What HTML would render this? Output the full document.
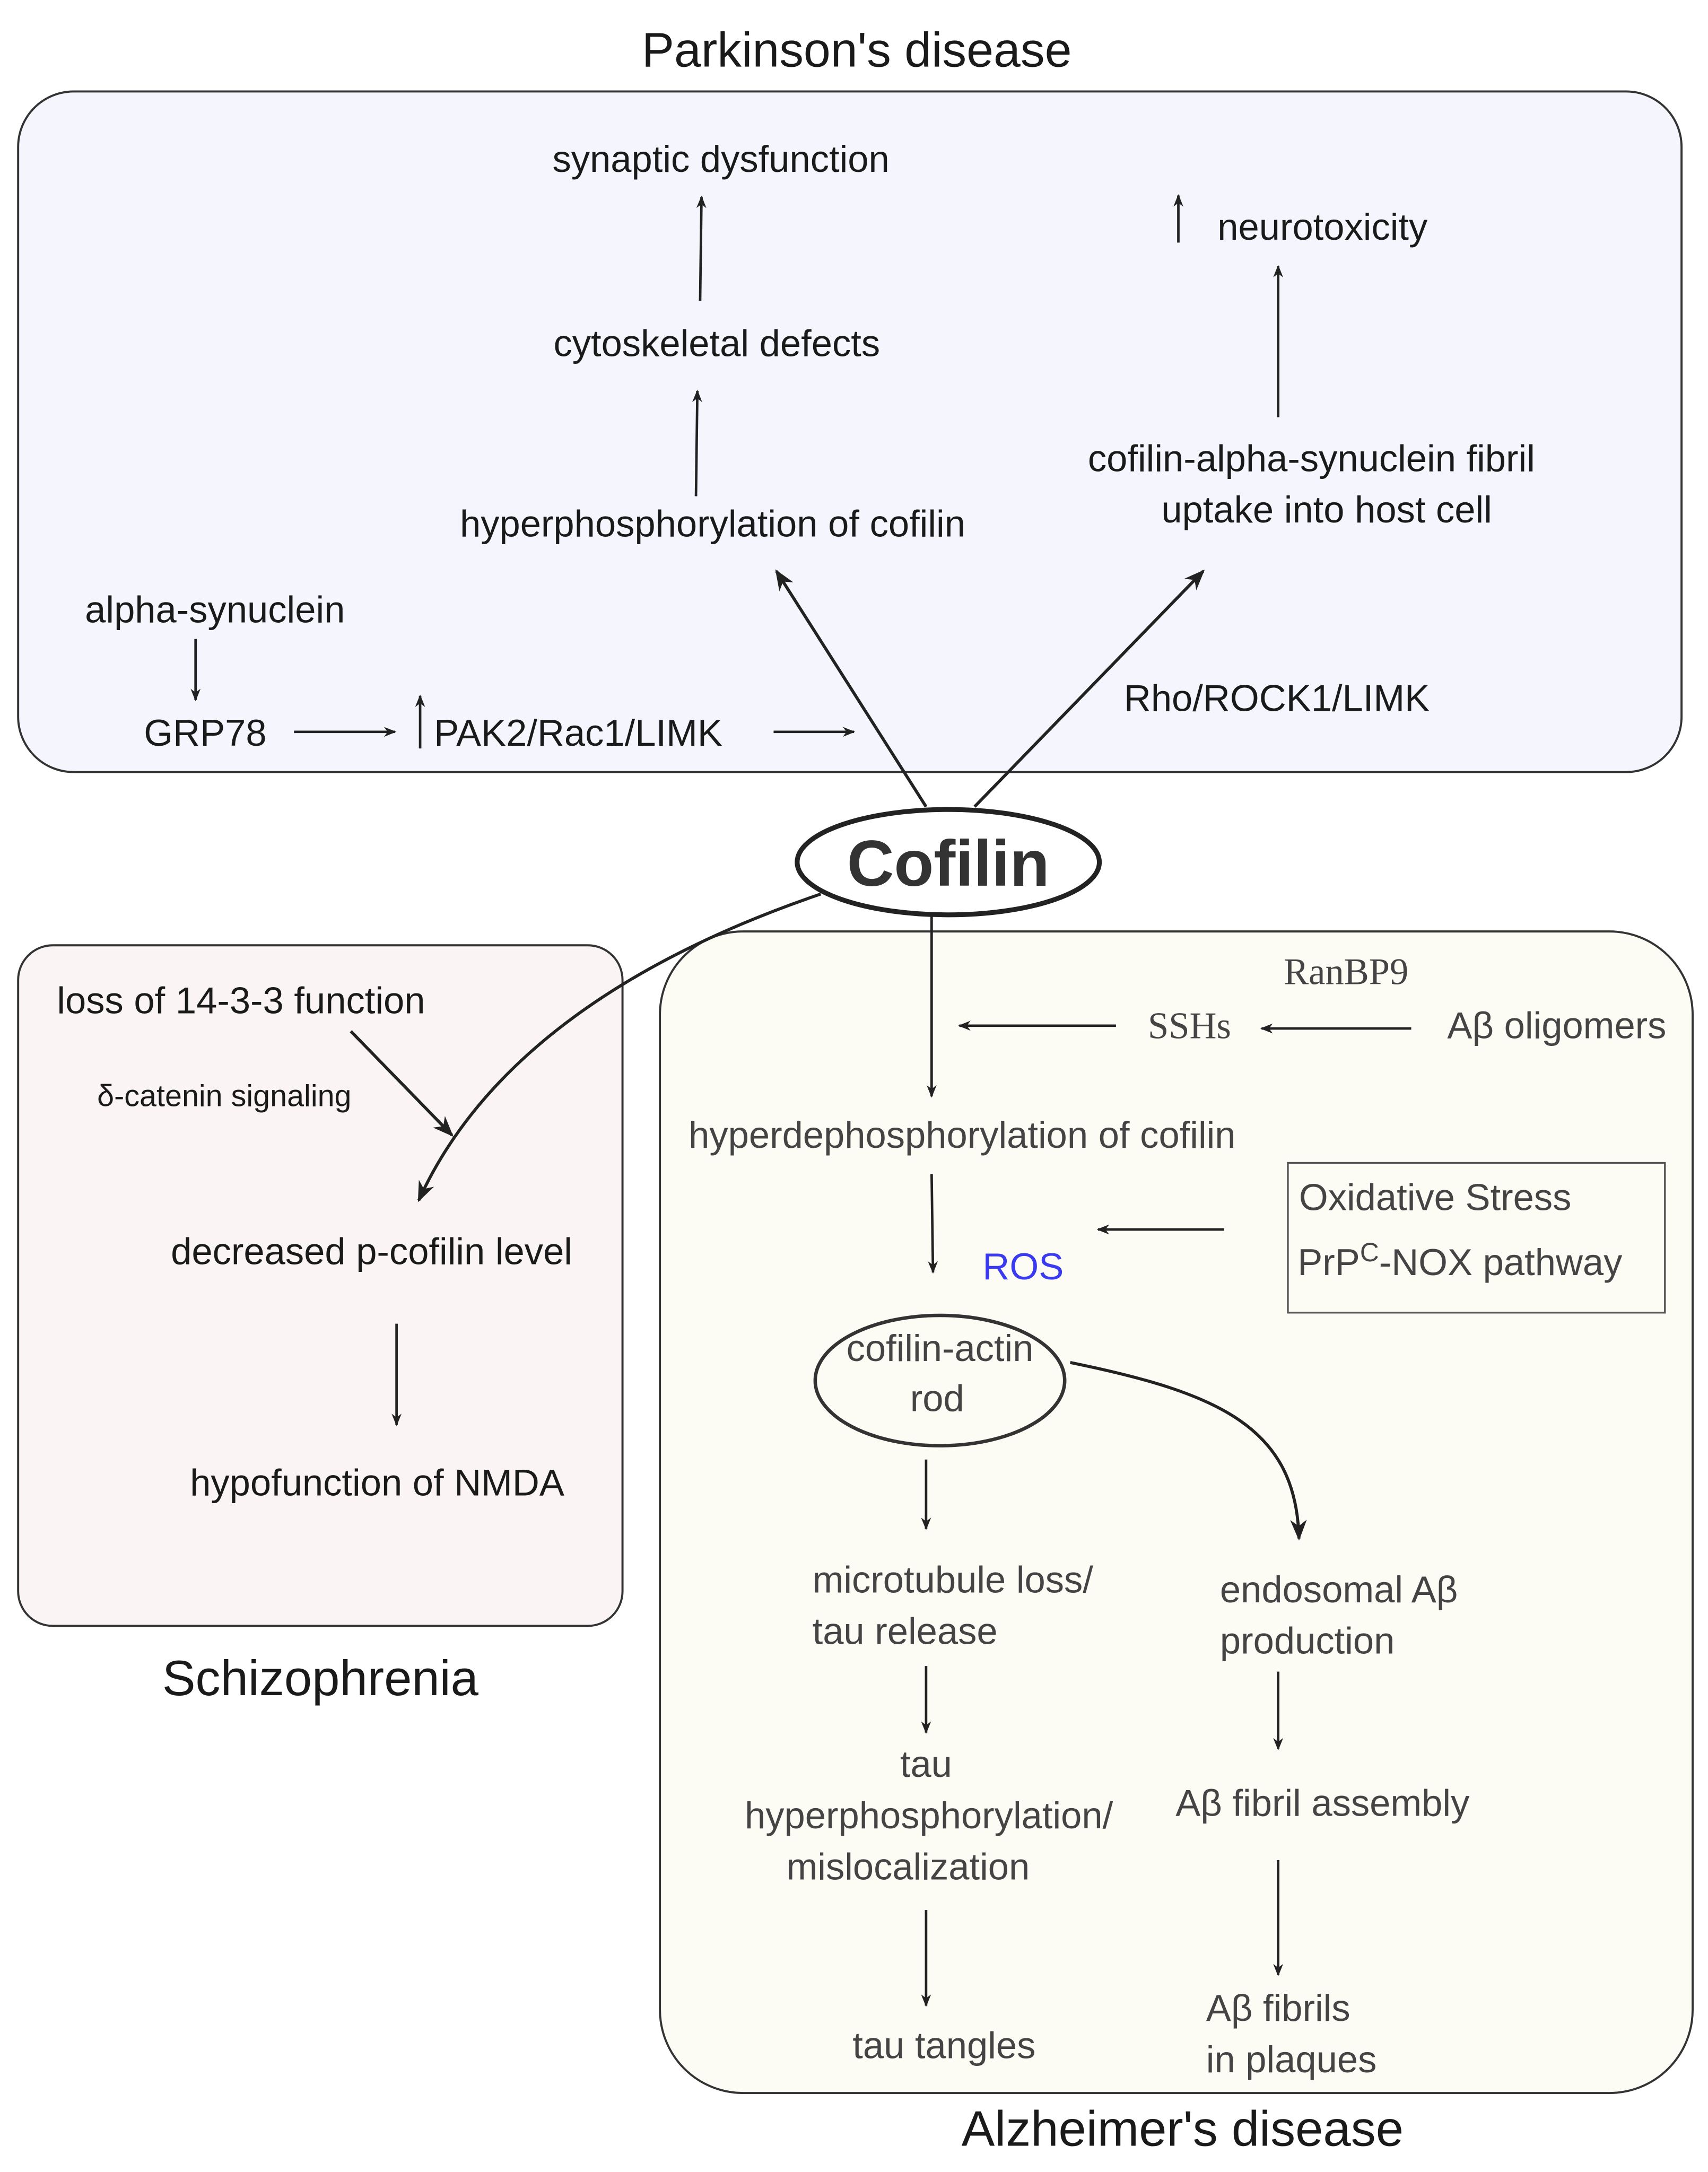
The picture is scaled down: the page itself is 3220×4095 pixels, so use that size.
<!DOCTYPE html>
<html><head><meta charset="utf-8"><style>html,body{margin:0;padding:0;background:#fff}svg{display:block}</style></head>
<body>
<svg width="3220" height="4095" viewBox="0 0 1232 1567" xmlns="http://www.w3.org/2000/svg" font-family="Liberation Sans, DejaVu Sans, sans-serif">
<defs>
<marker id="a" viewBox="0 0 10 10" refX="9" refY="5" markerWidth="9" markerHeight="9" orient="auto-start-reverse" markerUnits="userSpaceOnUse"><path d="M0,1 L10,5 L0,9 L3,5 z" fill="#222"/></marker>
<marker id="b" viewBox="0 0 10 10" refX="9" refY="5" markerWidth="15" markerHeight="15" orient="auto" markerUnits="userSpaceOnUse"><path d="M0,1 L10,5 L0,9 L3,5 z" fill="#222"/></marker>
</defs>
<rect x="0" y="0" width="1232" height="1567" fill="#fff"/>
<rect x="13" y="66" width="1200" height="491" rx="40" fill="#f4f5fd" stroke="#333" stroke-width="1.5"/>
<rect x="13" y="682" width="436" height="491" rx="25" fill="#faf4f5" stroke="#333" stroke-width="1.5"/>
<rect x="476" y="672" width="745" height="838" rx="60" fill="#fcfbf4" stroke="#333" stroke-width="1.5"/>
<g fill="#1a1a1a" font-size="27">
<text x="618" y="48" text-anchor="middle" font-size="35">Parkinson's disease</text>
<text x="520" y="124" text-anchor="middle">synaptic dysfunction</text>
<text x="517" y="257" text-anchor="middle">cytoskeletal defects</text>
<text x="514" y="387" text-anchor="middle">hyperphosphorylation of cofilin</text>
<text x="954" y="173" text-anchor="middle">neurotoxicity</text>
<text x="946" y="340" text-anchor="middle">cofilin-alpha-synuclein fibril</text>
<text x="957" y="377" text-anchor="middle">uptake into host cell</text>
<text x="155" y="449" text-anchor="middle">alpha-synuclein</text>
<text x="148" y="538" text-anchor="middle">GRP78</text>
<text x="313" y="538">PAK2/Rac1/LIMK</text>
<text x="921" y="513" text-anchor="middle">Rho/ROCK1/LIMK</text>
<text x="41" y="731">loss of 14-3-3 function</text>
<text x="70" y="798" font-size="22">δ-catenin signaling</text>
<text x="268" y="912" text-anchor="middle">decreased p-cofilin level</text>
<text x="272" y="1079" text-anchor="middle">hypofunction of NMDA</text>
<text x="231" y="1223" text-anchor="middle" font-size="36">Schizophrenia</text>
<text x="853" y="1548" text-anchor="middle" font-size="36">Alzheimer's disease</text>
</g>
<g fill="#444" font-size="27">
<text x="971" y="710" text-anchor="middle" font-family="Liberation Serif, serif">RanBP9</text>
<text x="858" y="749" text-anchor="middle" font-family="Liberation Serif, serif">SSHs</text>
<text x="1123" y="749" text-anchor="middle">Aβ oligomers</text>
<text x="694" y="828" text-anchor="middle">hyperdephosphorylation of cofilin</text>
<text x="937" y="873">Oxidative Stress</text>
<text x="936" y="920">PrP<tspan font-size="19" dy="-10">C</tspan><tspan dy="10">-NOX pathway</tspan></text>
<text x="678" y="982" text-anchor="middle">cofilin-actin</text>
<text x="676" y="1018" text-anchor="middle">rod</text>
<text x="586" y="1149">microtubule loss/</text>
<text x="586" y="1186">tau release</text>
<text x="880" y="1156">endosomal Aβ</text>
<text x="880" y="1193">production</text>
<text x="668" y="1282" text-anchor="middle">tau</text>
<text x="670" y="1319" text-anchor="middle">hyperphosphorylation/</text>
<text x="655" y="1356" text-anchor="middle">mislocalization</text>
<text x="954" y="1310" text-anchor="middle">Aβ fibril assembly</text>
<text x="681" y="1485" text-anchor="middle">tau tangles</text>
<text x="870" y="1458">Aβ fibrils</text>
<text x="870" y="1495">in plaques</text>
</g>
<text x="738" y="923" text-anchor="middle" font-size="27" fill="#3a3af0">ROS</text>
<rect x="929" y="839" width="272" height="108" fill="none" stroke="#555" stroke-width="1.3"/>
<ellipse cx="684" cy="622" rx="109" ry="38" fill="#fff" stroke="#222" stroke-width="3.5"/>
<text x="684" y="639" text-anchor="middle" font-size="47" font-weight="bold" fill="#333">Cofilin</text>
<ellipse cx="678" cy="996" rx="90" ry="47" fill="none" stroke="#333" stroke-width="2.5"/>
<g stroke="#222" stroke-width="1.8" fill="none" marker-end="url(#a)">
<line x1="505" y1="217" x2="506" y2="142"/>
<line x1="502" y1="358" x2="503" y2="282"/>
<line x1="922" y1="301" x2="922" y2="192"/>
<line x1="850" y1="175" x2="850" y2="141"/>
<line x1="141" y1="461" x2="141" y2="505"/>
<line x1="212" y1="528" x2="285" y2="528"/>
<line x1="303" y1="540" x2="303" y2="502"/>
<line x1="558" y1="528" x2="616" y2="528"/>
<line x1="286" y1="955" x2="286" y2="1028"/>
<line x1="805" y1="740" x2="692" y2="740"/>
<line x1="1018" y1="742" x2="910" y2="742"/>
<line x1="672" y1="847" x2="673" y2="918"/>
<line x1="883" y1="887" x2="792" y2="887"/>
<line x1="668" y1="1053" x2="668" y2="1103"/>
<line x1="668" y1="1202" x2="668" y2="1250"/>
<line x1="668" y1="1378" x2="668" y2="1447"/>
<line x1="922" y1="1206" x2="922" y2="1262"/>
<line x1="922" y1="1342" x2="922" y2="1425"/>
<line x1="672" y1="660" x2="672" y2="791"/>
</g>
<g stroke="#222" stroke-width="2.2" fill="none" marker-end="url(#b)">
<line x1="668" y1="582" x2="560" y2="412"/>
<line x1="703" y1="582" x2="868" y2="412"/>
<line x1="253" y1="744" x2="326" y2="819"/>
<path d="M592,645 C460,690 350,760 302,866"/>
<path d="M772,983 C880,1005 935,1030 937,1110"/>
</g>
</svg>
</body></html>
